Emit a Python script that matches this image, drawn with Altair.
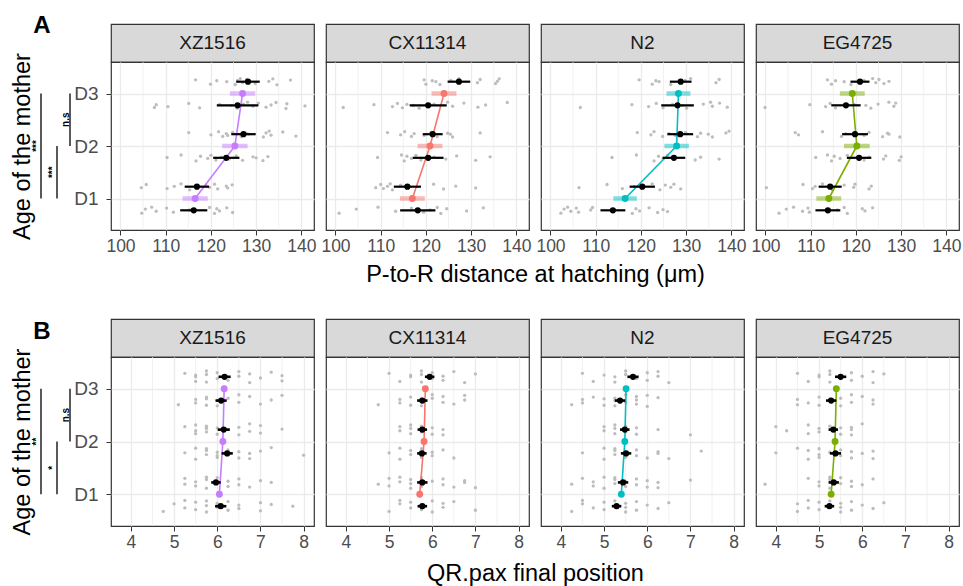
import altair as alt
import pandas as pd

FONT = "Liberation Sans"
STRAINS = ["XZ1516", "CX11314", "N2", "EG4725"]
COLORS = ["#C77CFF", "#F8766D", "#00BFC4", "#7CAE00"]
DAYS = ["D1", "D2", "D3"]

# group order in every list: D1 rep a, D1 rep b, D2 rep a, D2 rep b, D3 rep a, D3 rep b
# ---- Panel A: P-to-R distance at hatching (um)
PTR_XZ1516 = [
    [104.7, 105.5, 106.9, 107.9, 110.2, 111.7, 115.3, 119.7, 120.8, 121.3, 121.9, 123.5, 124.8],
    [104.6, 105.7, 110.3, 111.9, 113.4, 115.3, 118.9, 119.7, 120.8, 121.5, 123.4, 123.7, 124.7],
    [110.3, 113.4, 116.7, 117.7, 119.3, 120.0, 121.1, 122.3, 124.1, 125.6, 127.0, 129.3, 130.0, 131.5, 132.6],
    [115.1, 120.0, 121.7, 122.6, 123.4, 123.7, 124.8, 126.7, 127.8, 128.4, 131.6, 132.2, 132.9, 133.3, 135.9, 138.8],
    [107.5, 107.9, 110.5, 115.1, 117.5, 121.9, 124.5, 125.8, 127.2, 128.1, 129.3, 130.5, 132.2, 133.3, 134.4, 136.6, 136.8, 140.8],
    [116.6, 119.9, 121.3, 123.5, 125.4, 125.9, 126.5, 127.0, 127.9, 129.8, 132.8, 133.7, 134.6, 137.6],
]
PTR_CX11314 = [
    [100.8, 104.6, 109.4, 113.3, 116.8, 119.5, 120.9, 122.5, 123.3, 124.6, 129.0, 132.7],
    [108.9, 110.0, 110.6, 111.5, 112.1, 112.6, 114.4, 116.1, 121.7, 123.9, 126.6, 131.0],
    [109.3, 114.6, 115.2, 115.8, 116.8, 117.8, 118.9, 121.8, 124.4, 126.8, 131.0, 134.2],
    [111.5, 114.4, 115.3, 116.8, 117.4, 119.6, 121.1, 122.5, 124.8, 125.4, 125.9, 132.0],
    [101.7, 108.5, 112.6, 113.7, 114.8, 115.8, 117.2, 118.5, 121.8, 124.8, 125.9, 128.4, 131.5, 133.2, 138.0],
    [119.6, 120.0, 121.4, 122.2, 123.1, 125.5, 127.3, 131.4, 132.0, 135.4, 135.8, 136.2],
]
PTR_N2 = [
    [102.3, 103.0, 103.8, 104.5, 105.7, 106.2, 108.9, 109.3, 118.1, 118.9, 119.7, 121.8, 123.7, 124.9, 125.9],
    [106.3, 112.5, 115.9, 118.5, 122.5, 124.2, 125.4, 126.6, 127.3, 128.8],
    [113.6, 119.0, 122.9, 123.9, 124.9, 125.9, 132.0, 133.2, 137.3],
    [119.2, 122.2, 122.9, 124.8, 126.2, 127.6, 129.9, 132.5, 133.2, 134.9, 135.8, 138.8, 139.5],
    [106.6, 118.0, 121.7, 123.4, 124.9, 127.0, 129.2, 130.1, 133.8, 135.4, 135.8, 137.4, 139.1],
    [119.6, 122.5, 123.3, 124.0, 126.6, 129.8, 131.0, 136.6, 137.3],
]
PTR_EG4725 = [
    [103.0, 104.6, 106.2, 108.2, 109.4, 109.7, 115.9, 117.4, 118.1, 121.4, 122.0, 123.7],
    [100.2, 108.3, 110.4, 111.0, 112.6, 114.8, 117.4, 119.5, 119.8, 122.9, 123.4],
    [111.1, 113.7, 114.6, 115.2, 116.5, 118.1, 121.8, 122.9, 126.1, 126.6, 129.6, 130.0],
    [106.6, 107.3, 112.6, 116.8, 117.8, 121.8, 122.9, 125.9, 127.0, 127.3, 129.7],
    [99.9, 109.8, 113.3, 114.3, 115.5, 119.6, 122.2, 123.3, 124.9, 127.3, 128.4, 128.8],
    [113.7, 114.6, 115.5, 117.4, 118.9, 121.8, 123.7, 124.4, 125.1, 126.2, 127.3],
]
PTR_POINTS = [PTR_XZ1516, PTR_CX11314, PTR_N2, PTR_EG4725]
PTR_REP_MEAN = [
    [116.2, 116.9, 123.4, 127.2, 125.9, 128.2],
    [118.2, 115.9, 120.5, 121.5, 120.5, 127.3],
    [113.8, 120.3, 127.3, 128.7, 128.1, 128.8],
    [113.8, 114.3, 120.7, 119.8, 117.8, 120.9],
]
PTR_REP_SE = [
    [3.0, 2.7, 2.9, 2.7, 4.6, 2.6],
    [3.9, 3.0, 3.4, 2.2, 4.1, 2.5],
    [2.75, 2.8, 2.5, 2.85, 3.6, 2.4],
    [2.75, 2.55, 2.7, 2.85, 3.25, 2.1],
]
PTR_DAY_MEAN = [
    [116.5, 125.3, 127.0],
    [117.0, 120.9, 124.0],
    [116.5, 127.9, 128.3],
    [114.0, 120.2, 119.2],
]
PTR_DAY_SE = [
    [2.8, 2.8, 2.8],
    [2.75, 2.75, 2.75],
    [2.6, 2.7, 2.65],
    [2.75, 2.85, 2.75],
]

# ---- Panel B: QR.pax final position
QR_XZ1516 = [
    [4.75, 5.0, 5.25, 5.25, 5.5, 5.5, 5.75, 5.75, 5.75, 6.0, 6.0, 6.25, 6.25, 6.5, 6.5, 7.0, 7.0, 7.25, 7.75],
    [5.25, 5.25, 5.5, 5.5, 5.75, 5.75, 5.75, 6.0, 6.0, 6.25, 6.25, 6.5, 6.5, 6.75, 7.0, 7.25],
    [5.25, 5.5, 5.5, 5.75, 5.75, 5.75, 6.0, 6.0, 6.0, 6.25, 6.5, 6.5, 6.75, 6.75, 7.0, 7.25, 8.0],
    [5.25, 5.5, 5.5, 5.5, 5.75, 5.75, 5.75, 6.0, 6.0, 6.25, 6.5, 6.5, 6.75, 6.75, 7.0, 7.0, 7.5],
    [5.1, 5.5, 5.5, 5.75, 5.75, 5.75, 6.0, 6.0, 6.25, 6.5, 6.5, 6.75, 7.0, 7.25, 7.5],
    [5.25, 5.5, 5.5, 5.5, 5.75, 5.75, 5.75, 6.0, 6.0, 6.25, 6.5, 6.5, 6.75, 6.75, 7.0, 7.25, 7.5, 7.5],
]
QR_CX11314 = [
    [5.0, 5.25, 5.25, 5.5, 5.5, 5.75, 5.75, 6.0, 6.0, 6.25, 6.25, 6.5, 7.0],
    [4.75, 5.0, 5.0, 5.25, 5.25, 5.5, 5.5, 5.5, 5.75, 5.75, 6.0, 6.25, 6.25, 6.5, 6.75, 6.75, 7.0],
    [5.0, 5.25, 5.25, 5.5, 5.5, 5.75, 5.75, 6.0, 6.0, 6.25, 6.5],
    [5.25, 5.25, 5.5, 5.5, 5.5, 5.75, 5.75, 6.0, 6.0, 6.25, 6.25],
    [4.75, 5.25, 5.25, 5.5, 5.5, 5.75, 5.75, 5.75, 6.0, 6.0, 6.25, 6.25, 6.5, 6.75, 6.75],
    [5.0, 5.25, 5.5, 5.5, 5.75, 5.75, 5.75, 6.0, 6.0, 6.25, 6.25, 6.5, 6.75, 7.0],
]
QR_N2 = [
    [4.25, 4.5, 4.5, 4.75, 5.0, 5.0, 5.25, 5.25, 5.5, 5.5, 5.5, 5.75, 5.75, 6.0, 6.25, 6.5],
    [4.25, 4.5, 4.75, 4.75, 5.0, 5.0, 5.25, 5.25, 5.25, 5.5, 5.5, 5.75, 5.75, 6.0, 6.0, 6.25, 6.25, 7.0],
    [4.5, 5.0, 5.0, 5.25, 5.25, 5.25, 5.5, 5.5, 5.75, 5.75, 6.0, 6.25, 6.25, 6.5, 7.25],
    [5.0, 5.0, 5.25, 5.25, 5.25, 5.5, 5.5, 5.75, 5.75, 6.25, 7.0],
    [4.25, 4.5, 4.5, 4.75, 5.0, 5.0, 5.25, 5.25, 5.25, 5.5, 5.5, 5.75, 5.75, 5.75, 6.0, 6.0, 6.25],
    [4.5, 4.75, 5.0, 5.25, 5.25, 5.5, 5.5, 5.75, 6.0, 6.0, 6.25, 6.25, 6.5],
]
QR_EG4725 = [
    [4.5, 4.5, 4.75, 4.75, 5.0, 5.0, 5.25, 5.25, 5.5, 5.5, 5.5, 5.75, 5.75, 6.0, 6.25, 6.5],
    [3.75, 4.75, 5.0, 5.0, 5.25, 5.25, 5.25, 5.5, 5.5, 5.75, 5.75, 6.0, 6.25],
    [4.0, 4.5, 4.75, 4.75, 5.0, 5.0, 5.0, 5.25, 5.5, 5.5, 5.75, 5.75, 6.0, 6.25, 6.25],
    [4.0, 4.25, 4.75, 4.75, 5.0, 5.0, 5.25, 5.5, 5.5, 5.75, 5.75, 5.75, 6.0],
    [4.5, 4.5, 4.75, 5.0, 5.0, 5.25, 5.25, 5.5, 5.5, 5.75, 5.75, 6.0, 6.25, 6.25],
    [4.5, 4.75, 5.0, 5.0, 5.25, 5.25, 5.25, 5.5, 5.75, 5.75, 6.0, 6.25, 6.25, 6.5],
]
QR_POINTS = [QR_XZ1516, QR_CX11314, QR_N2, QR_EG4725]
QR_REP_MEAN = [
    [6.08, 5.97, 6.23, 6.15, 6.09, 6.17],
    [5.77, 5.77, 5.76, 5.77, 5.77, 5.94],
    [5.29, 5.44, 5.51, 5.48, 5.37, 5.67],
    [5.24, 5.34, 5.38, 5.33, 5.28, 5.50],
]
QR_REP_SE = [
    [0.13, 0.11, 0.13, 0.14, 0.13, 0.14],
    [0.11, 0.12, 0.11, 0.11, 0.12, 0.11],
    [0.11, 0.12, 0.12, 0.11, 0.12, 0.13],
    [0.11, 0.12, 0.13, 0.11, 0.12, 0.13],
]
QR_DAY_MEAN = [
    [6.05, 6.13, 6.16],
    [5.71, 5.81, 5.84],
    [5.40, 5.48, 5.51],
    [5.28, 5.37, 5.40],
]
QR_DAY_SE = [
    [0.05, 0.05, 0.05],
    [0.05, 0.05, 0.05],
    [0.05, 0.05, 0.05],
    [0.05, 0.05, 0.05],
]

# significance brackets (day from, day to, label)
SIG_FROM = [1, 1, 2]
SIG_TO = [3, 2, 3]
SIG_A = ["***", "***", "n.s"]
SIG_B = ["**", "*", "n.s"]

# fixed vertical jitter pattern for the raw observations
JIT = [-0.9, 0.4, 1.0, -0.3, 0.7, -0.6, 0.1, 0.9, -1.0, 0.5, -0.2, 0.8, -0.7, 0.2, -0.4, 0.6, -0.8, 0.3, 0.0]

GRID = "#EBEBEB"
W, SH = 203, 38
REP_OFF = 0.225


def rep_y(g):
    return g // 2 + 1 + (REP_OFF if g % 2 else -REP_OFF)


def gray_df(groups, amp):
    rows = []
    for g, vals in enumerate(groups):
        for i, v in enumerate(vals):
            rows.append({"x": v, "y": rep_y(g) + JIT[(i + 3 * g) % len(JIT)] * amp})
    return pd.DataFrame(rows)


def rep_df(means, ses):
    return pd.DataFrame([{"x": m, "lo": m - s, "hi": m + s, "y": rep_y(g)}
                         for g, (m, s) in enumerate(zip(means, ses))])


def day_df(means, ses):
    return pd.DataFrame([{"x": m, "lo": m - s, "hi": m + s, "y": d + 1}
                         for d, (m, s) in enumerate(zip(means, ses))])


CFG_A = dict(dom=[97.9, 142.8], ticks=[100, 110, 120, 130, 140], minor=[105, 115, 125, 135],
             title="P-to-R distance at hatching (μm)", titleY=44, amp=0.06, bw=2.2,
             points=PTR_POINTS, rm=PTR_REP_MEAN, rs=PTR_REP_SE, dm=PTR_DAY_MEAN, ds=PTR_DAY_SE,
             sig=SIG_A, letter="A", letterY=-29)
CFG_B = dict(dom=[3.54, 8.24], ticks=[4, 5, 6, 7, 8], minor=[4.5, 5.5, 6.5, 7.5],
             title="QR.pax final position", titleY=47, amp=0.11, bw=2.6,
             points=QR_POINTS, rm=QR_REP_MEAN, rs=QR_REP_SE, dm=QR_DAY_MEAN, ds=QR_DAY_SE,
             sig=SIG_B, letter="B", letterY=-18)


def plot_panel(k, cfg, h):
    color = COLORS[k]
    first = k == 0
    xs = alt.Scale(domain=cfg["dom"], nice=False, zero=False)
    ys = alt.Scale(domain=[0.4, 3.6], nice=False, zero=False)
    xa = dict(values=cfg["ticks"], grid=True, gridColor=GRID, gridWidth=1.3, domain=False,
              tickColor="#333333", tickSize=5, tickWidth=1, labelFont=FONT, labelFontSize=17.5,
              labelColor="#4D4D4D", labelPadding=2, labelFlush=False)
    if first:
        xa.update(title=cfg["title"], titleFont=FONT, titleFontSize=23.5, titleFontWeight="normal",
                  titleColor="#000000", titleX=424, titleY=cfg["titleY"], titleAlign="center",
                  titleBaseline="middle", titleAngle=0)
    else:
        xa.update(title="")
    if first:
        ya = dict(values=[1, 2, 3], labelExpr="'D' + datum.value", grid=True, gridColor=GRID,
                  gridWidth=1.3, domain=False, tickColor="#333333", tickSize=5, tickWidth=1,
                  labelFont=FONT, labelFontSize=19, labelColor="#4D4D4D", labelPadding=8,
                  title="Age of the mother", titleFont=FONT, titleFontSize=23.5,
                  titleFontWeight="normal", titleColor="#000000", titleX=-89, titleY=h / 2,
                  titleAngle=270, titleAlign="center", titleBaseline="middle")
    else:
        ya = dict(values=[1, 2, 3], grid=True, gridColor=GRID, gridWidth=1.3, domain=False,
                  ticks=False, labels=False, title="")
    x_axis = alt.Axis(**xa)
    y_axis = alt.Axis(**ya)

    gdf = gray_df(cfg["points"][k], cfg["amp"])
    rdf = rep_df(cfg["rm"][k], cfg["rs"][k])
    ddf = day_df(cfg["dm"][k], cfg["ds"][k])

    X = lambda f: alt.X(f, scale=xs, axis=x_axis)
    Y = lambda f: alt.Y(f, scale=ys, axis=y_axis)

    layers = [
        alt.Chart(pd.DataFrame({"v": cfg["minor"]})).mark_rule(color=GRID, strokeWidth=0.7)
        .encode(x=X("v:Q")),
        alt.Chart(gdf).mark_circle(size=11, color="#BDBDBD", opacity=1)
        .encode(x=X("x:Q"), y=Y("y:Q")),
        alt.Chart(ddf).mark_rule(color=color, strokeWidth=4.5, opacity=0.5)
        .encode(x=X("lo:Q"), x2="hi:Q", y=Y("y:Q")),
        alt.Chart(ddf).mark_line(color=color, strokeWidth=1.6)
        .encode(x=X("x:Q"), y=Y("y:Q"), order=alt.Order("y:Q")),
        alt.Chart(ddf).mark_circle(size=48, color=color, opacity=1)
        .encode(x=X("x:Q"), y=Y("y:Q")),
        alt.Chart(rdf).mark_rule(color="#000000", strokeWidth=cfg["bw"])
        .encode(x=X("lo:Q"), x2="hi:Q", y=Y("y:Q")),
        alt.Chart(rdf).mark_circle(size=38, color="#000000", opacity=1)
        .encode(x=X("x:Q"), y=Y("y:Q")),
    ]
    if first:
        bx = [-70, -54, -41]
        for j in range(3):
            lo, hi = SIG_FROM[j], SIG_TO[j]
            layers.append(
                alt.Chart(pd.DataFrame({"y": [lo], "y2": [hi]}))
                .mark_rule(color="#000000", strokeWidth=1.3)
                .encode(x=alt.value(bx[j]), y=Y("y:Q"), y2="y2:Q"))
            layers.append(
                alt.Chart(pd.DataFrame({"y": [(lo + hi) / 2], "t": [cfg["sig"][j]]}))
                .mark_text(angle=270, fontSize=10, fontWeight="bold", font=FONT,
                           baseline="alphabetic", align="center", color="#000000")
                .encode(x=alt.value(bx[j] - 1), y=Y("y:Q"), text="t:N"))
        layers.append(
            alt.Chart(pd.DataFrame({"t": [cfg["letter"]]}))
            .mark_text(fontSize=24, fontWeight="bold", font=FONT, align="center",
                       baseline="alphabetic", color="#000000")
            .encode(x=alt.value(-69), y=alt.value(cfg["letterY"]), text="t:N"))
    return alt.layer(*layers).properties(width=W, height=h)


def strip(k):
    return (alt.Chart(pd.DataFrame({"s": [STRAINS[k]]}))
            .mark_text(font=FONT, fontSize=19, color="#1A1A1A", baseline="middle", align="center")
            .encode(text="s:N", x=alt.value(W / 2), y=alt.value(SH / 2))
            .properties(width=W, height=SH,
                        view=alt.ViewBackground(fill="#D9D9D9", stroke="#333333", strokeWidth=1.2)))


def spacer(hh):
    return (alt.Chart(pd.DataFrame({"t": [""]})).mark_text().encode(text="t:N")
            .properties(width=W, height=hh, view=alt.ViewBackground(strokeOpacity=0)))


cells = []
cells += [strip(k) for k in range(4)]
cells += [plot_panel(k, CFG_A, 168) for k in range(4)]
cells += [spacer(89) for k in range(4)]
cells += [strip(k) for k in range(4)]
cells += [plot_panel(k, CFG_B, 169) for k in range(4)]

chart = (alt.concat(*cells, columns=4, spacing={"row": 0, "column": 12}, bounds="flush")
         .properties(padding={"left": 9, "top": 13, "right": 0, "bottom": 0}, background="#FFFFFF")
         .configure(font=FONT)
         .configure_view(stroke="#333333", strokeWidth=1.2))

chart.save("out.html", embed_options={"renderer": "svg", "actions": False})
